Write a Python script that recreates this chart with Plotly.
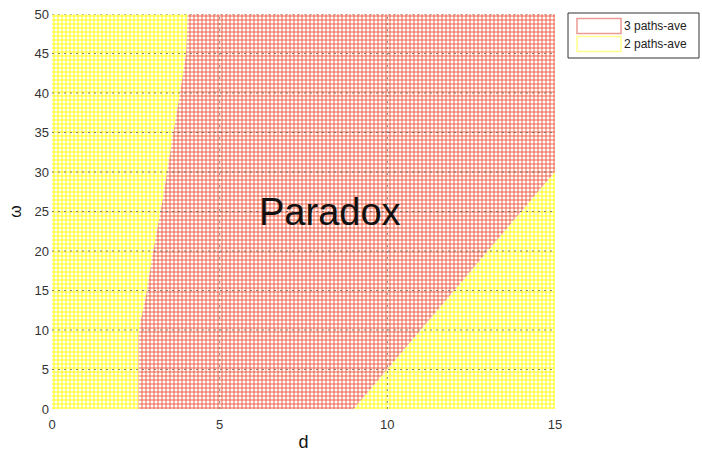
import plotly.graph_objects as go

# Boundary between the "2 paths" region (left) and the "3 paths" region
left_d = [2.58, 2.58, 2.65, 2.78, 3.02, 3.30, 3.62, 3.78, 4.00, 4.05]
left_w = [0.0, 9.5, 11.3, 13.8, 20.0, 26.5, 35.0, 39.0, 45.0, 50.0]

# Boundary between the "3 paths" region and the lower-right "2 paths" region
right_d = [9.0, 15.0]
right_w = [0.0, 30.0]

d_range = [0, 15]
w_range = [0, 50]
x_ticks = [0, 5, 10, 15]
y_ticks = [0, 5, 10, 15, 20, 25, 30, 35, 40, 45, 50]

series_names = ["3 paths-ave", "2 paths-ave"]
RED = "#e8401f"
YEL = "#ffff00"

FONT = "Liberation Sans, Arial"


def region(xs, ys, color, solidity):
    return go.Scatter(
        x=xs, y=ys, fill="toself", mode="none", hoverinfo="skip",
        fillcolor="rgba(0,0,0,0)",
        fillpattern=dict(shape="+", size=4, solidity=solidity, fgcolor=color,
                         bgcolor="white", fgopacity=1),
        showlegend=False,
    )


fig = go.Figure()

# yellow region on the left
fig.add_trace(region([d_range[0]] + left_d + [d_range[0]],
                     [w_range[0]] + left_w + [w_range[1]], YEL, 0.42))
# red region in the middle
fig.add_trace(region(left_d + [d_range[1], right_d[1], right_d[0]],
                     left_w + [w_range[1], right_w[1], right_w[0]], RED, 0.36))
# yellow triangle at lower right
fig.add_trace(region([right_d[0], d_range[1], right_d[1]],
                     [right_w[0], w_range[0], right_w[1]], YEL, 0.42))

shapes = []
# dotted grid drawn over the regions
grid_line = dict(color="rgba(100,100,100,0.8)", width=1, dash="2px,4px")
for xv in x_ticks[1:-1]:
    shapes.append(dict(type="line", xref="x", yref="y", x0=xv, x1=xv, y0=w_range[0], y1=w_range[1],
                       line=grid_line, layer="above"))
for yv in y_ticks[1:]:
    shapes.append(dict(type="line", xref="x", yref="y", x0=d_range[0], x1=d_range[1], y0=yv, y1=yv,
                       line=grid_line, layer="above"))


# legend box (paper coordinates relative to the plot area)
def px_x(v):
    return (v - 52) / 503


def px_y(v):
    return (409 - v) / 395


shapes.append(dict(type="rect", xref="paper", yref="paper",
                   x0=px_x(568), x1=px_x(699), y0=px_y(58), y1=px_y(13),
                   line=dict(color="#333333", width=1), fillcolor="white", layer="above"))
legend_colors = ["#ec9a94", "#ffff8c"]
legend_y = [26, 44]
annotations = []
for name, col, yc in zip(series_names, legend_colors, legend_y):
    shapes.append(dict(type="rect", xref="paper", yref="paper",
                       x0=px_x(577), x1=px_x(621), y0=px_y(yc + 7.5), y1=px_y(yc - 7.5),
                       line=dict(color=col, width=1.5), fillcolor="white", layer="above"))
    annotations.append(dict(xref="paper", yref="paper", x=px_x(622), y=px_y(yc),
                            text=name, showarrow=False, xanchor="left", yanchor="middle",
                            font=dict(family=FONT, size=12, color="#222222")))

annotations.append(dict(xref="x", yref="y", x=8.3, y=25, text="Paradox", showarrow=False,
                        font=dict(family=FONT, size=38, color="#111111")))

fig.update_layout(
    width=702, height=457,
    margin=dict(l=52, r=147, t=14, b=48, autoexpand=False),
    paper_bgcolor="white", plot_bgcolor="white",
    showlegend=False,
    shapes=shapes, annotations=annotations,
    xaxis=dict(range=d_range, tickvals=x_ticks, showgrid=False, zeroline=False, showline=False,
               automargin=False, ticks="", ticklabelstandoff=6,
               tickfont=dict(family=FONT, size=13, color="#333333"),
               title=dict(text="d", font=dict(family=FONT, size=18, color="#111111"), standoff=4)),
    yaxis=dict(range=w_range, tickvals=y_ticks, showgrid=False, zeroline=False, showline=False,
               automargin=False, ticks="", ticklabelstandoff=2,
               tickfont=dict(family=FONT, size=13, color="#333333"),
               title=dict(text="ω", font=dict(family=FONT, size=16, color="#111111"), standoff=8)),
)

fig.write_html("out.html")
